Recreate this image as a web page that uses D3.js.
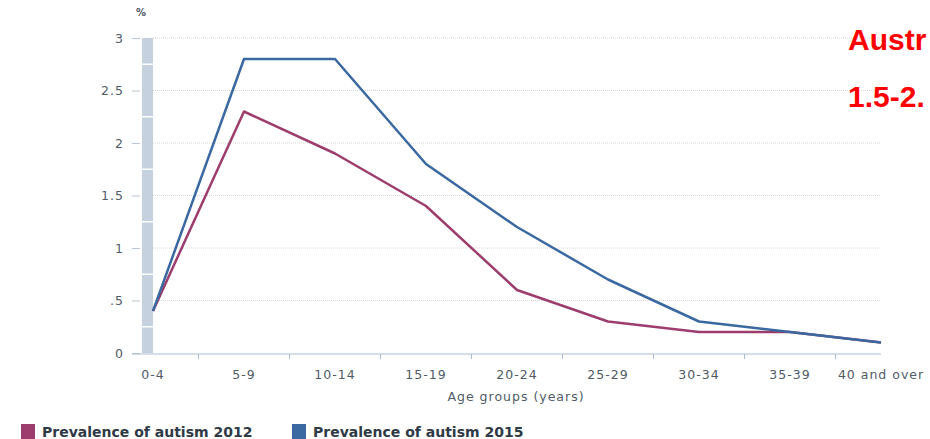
<!DOCTYPE html>
<html>
<head>
<meta charset="utf-8">
<script src="https://cdn.jsdelivr.net/npm/d3@7"></script>
<style>
  body { margin: 0; background: #fff; overflow: hidden; }
  svg { display: block; }
</style>
</head>
<body>
<div id="vis-container"></div>
<script>
// chart data
var ageGroups = ["0-4","5-9","10-14","15-19","20-24","25-29","30-34","35-39","40 and over"];
var prev2012 = [0.4, 2.3, 1.9, 1.4, 0.6, 0.3, 0.2, 0.2, 0.1];
var prev2015 = [0.4, 2.8, 2.8, 1.8, 1.2, 0.7, 0.3, 0.2, 0.1];
var yTicks = [0, 0.5, 1, 1.5, 2, 2.5, 3];
var yTickLabels = ["0", ".5", "1", "1.5", "2", "2.5", "3"];
var seriesNames = ["Prevalence of autism 2012", "Prevalence of autism 2015"];
var seriesColors = ["#9d3d6d", "#3a68a0"];
var noteLines = ["Austr", "1.5-2."];

var width = 930, height = 439;
var labelColor = "#4f5b66";
var svg = d3.select("#vis-container").append("svg")
    .attr("width", width)
    .attr("height", height);

var x = d3.scalePoint().domain(ageGroups).range([153, 881]);
var y = d3.scaleLinear().domain([0, 3]).range([353, 38]);
var step = x.step();

// shaded band on the left of the plot
svg.append("rect")
    .attr("x", 142).attr("y", y(3))
    .attr("width", 11).attr("height", y(0) - y(3))
    .attr("fill", "#c6d1df");
svg.append("g").selectAll("line")
    .data(yTicks.slice(0, -1))
    .enter().append("line")
    .attr("x1", 142).attr("x2", 153)
    .attr("y1", function(d){ return y(d + 0.25); })
    .attr("y2", function(d){ return y(d + 0.25); })
    .attr("stroke", "#fff")
    .attr("stroke-width", 1.5);

// grid lines
svg.append("g").selectAll("line")
    .data(yTicks.filter(function(d){ return d > 0; }))
    .enter().append("line")
    .attr("x1", 153).attr("x2", 881)
    .attr("y1", function(d){ return y(d); })
    .attr("y2", function(d){ return y(d); })
    .attr("stroke", "#d6d6d6")
    .attr("stroke-dasharray", "1,1");

// y axis
var yAxis = svg.append("g")
    .attr("transform", "translate(140,0)")
    .call(d3.axisLeft(y).tickValues(yTicks)
        .tickFormat(function(d, i){ return yTickLabels[i]; })
        .tickSize(8).tickPadding(8));
yAxis.select(".domain").remove();
yAxis.selectAll(".tick line").attr("stroke", "#b9c6d6");
yAxis.selectAll("text")
    .attr("fill", labelColor)
    .style("font-family", "DejaVu Sans")
    .style("font-size", "12.5px")
    .style("letter-spacing", "1px");

svg.append("text")
    .attr("x", 141).attr("y", 16)
    .attr("text-anchor", "middle")
    .attr("fill", labelColor)
    .style("font-family", "DejaVu Sans")
    .style("font-size", "10px")
    .style("font-weight", "bold")
    .text("%");

// x axis
svg.append("line")
    .attr("x1", 132).attr("x2", 881)
    .attr("y1", 354).attr("y2", 354)
    .attr("stroke", "#a9bdd6");
var xAxis = svg.append("g")
    .attr("transform", "translate(0,354)");
xAxis.selectAll("line")
    .data(ageGroups.slice(0, -1))
    .enter().append("line")
    .attr("x1", function(d){ return x(d) + step / 2; })
    .attr("x2", function(d){ return x(d) + step / 2; })
    .attr("y1", 0).attr("y2", 5)
    .attr("stroke", "#a9bdd6");
xAxis.selectAll("text")
    .data(ageGroups)
    .enter().append("text")
    .attr("x", function(d){ return x(d); })
    .attr("y", 25)
    .attr("text-anchor", "middle")
    .attr("fill", labelColor)
    .style("font-family", "DejaVu Sans")
    .style("font-size", "12.5px")
    .style("letter-spacing", "1px")
    .text(function(d){ return d; });

svg.append("text")
    .attr("x", 516).attr("y", 401)
    .attr("text-anchor", "middle")
    .attr("fill", labelColor)
    .style("font-family", "DejaVu Sans")
    .style("font-size", "12.5px")
    .style("letter-spacing", "1px")
    .text("Age groups (years)");

// lines
var line = d3.line()
    .x(function(d, i){ return x(ageGroups[i]); })
    .y(function(d){ return y(d); });
[prev2012, prev2015].forEach(function(s, i){
    svg.append("path")
        .datum(s)
        .attr("d", line)
        .attr("fill", "none")
        .attr("stroke", seriesColors[i])
        .attr("stroke-width", 2.5)
        .attr("stroke-linejoin", "round");
});

// legend
var legendX = [21, 292];
seriesNames.forEach(function(name, i){
    svg.append("rect")
        .attr("x", legendX[i]).attr("y", 424)
        .attr("width", 14).attr("height", 15)
        .attr("fill", seriesColors[i]);
    svg.append("text")
        .attr("x", legendX[i] + 21).attr("y", 437)
        .attr("fill", "#2e3a46")
        .style("font-family", "DejaVu Sans")
        .style("font-size", "14px")
        .style("font-weight", "bold")
        .text(name);
});

// red note text
noteLines.forEach(function(t, i){
    svg.append("text")
        .attr("x", 848).attr("y", 50 + i * 57)
        .attr("fill", "#ff0000")
        .style("font-family", "Liberation Sans")
        .style("font-size", "30px")
        .style("font-weight", "bold")
        .text(t);
});
</script>
</body>
</html>
